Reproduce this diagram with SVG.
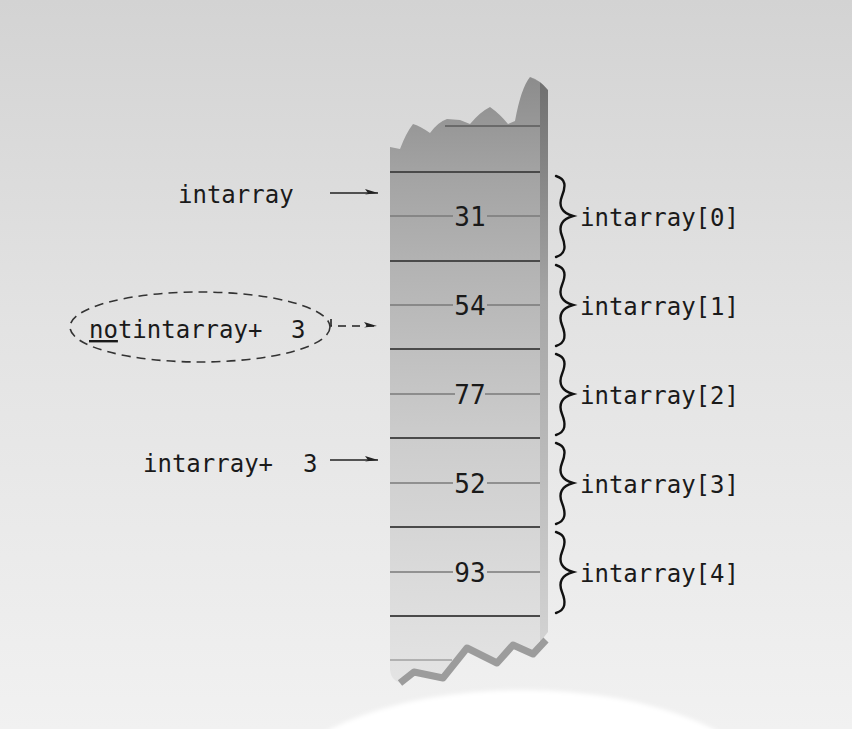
<svg xmlns="http://www.w3.org/2000/svg" width="852" height="729" viewBox="0 0 852 729">
<defs>
<linearGradient id="bg" x1="0" y1="0" x2="0" y2="1">
<stop offset="0" stop-color="#d3d3d3"/>
<stop offset="0.45" stop-color="#e3e3e3"/>
<stop offset="1" stop-color="#f1f1f1"/>
</linearGradient>
<linearGradient id="face" gradientUnits="userSpaceOnUse" x1="0" y1="77" x2="0" y2="685">
<stop offset="0" stop-color="#8c8c8c"/>
<stop offset="0.15" stop-color="#a2a2a2"/>
<stop offset="0.3" stop-color="#b2b2b2"/>
<stop offset="0.6" stop-color="#cdcdcd"/>
<stop offset="0.85" stop-color="#dcdcdc"/>
<stop offset="1" stop-color="#e4e4e4"/>
</linearGradient>
<linearGradient id="side" gradientUnits="userSpaceOnUse" x1="0" y1="77" x2="0" y2="640">
<stop offset="0" stop-color="#6e6e6e"/>
<stop offset="0.4" stop-color="#a6a6a6"/>
<stop offset="1" stop-color="#d2d2d2"/>
</linearGradient>
<filter id="soft" x="-10%" y="-10%" width="120%" height="120%"><feGaussianBlur stdDeviation="2"/></filter>
<marker id="harp" markerUnits="userSpaceOnUse" markerWidth="16" markerHeight="10" refX="14" refY="5" orient="auto" viewBox="0 0 16 10">
<path d="M14,5 L1,1 L4,5 L1,6.5 Z" fill="#222"/>
</marker>
<style>
.mono{font-family:"DejaVu Sans Mono","Liberation Mono",monospace;fill:#1a1a1a}
.lbl{font-size:24px}
.num{font-size:26px;text-anchor:middle}
.cell{stroke:#4a4a4a;stroke-width:2.2}
.mid{stroke:#7a7a7a;stroke-width:1.3}
.brace{fill:none;stroke:#111;stroke-width:2.4;stroke-linecap:round}
.arr{stroke:#222;stroke-width:1.6;fill:none}
</style>
</defs>
<rect x="0" y="0" width="852" height="729" fill="url(#bg)"/>
<ellipse cx="522" cy="802" rx="252" ry="112" fill="#ffffff" filter="url(#soft)"/>

<g id="column">
<path d="M390,147 L400,149 Q406,133 413,124 Q420,126 430,133 Q438,122 447,119 L460,120 L470,124 Q480,112 490,107 Q500,114 508,124 L515,121 Q521,88 530,77 L540,82 L540,640 L530,655 L513,645 L497,663 L467,648 L443,678 L414,672 L400,683 Q391,680 390,670 Z" fill="url(#face)"/>
<path d="M530,77 Q540,80 548,90 L548,632 L540,642 L540,82 Z" fill="url(#side)"/>
<path d="M400,683 L414,672 L443,678 L467,648 L497,663 L513,645 L533,654 L546,640" fill="none" stroke="#9c9c9c" stroke-width="7" stroke-linejoin="round"/>
<line x1="445" y1="126" x2="540" y2="126" stroke="#6a6a6a" stroke-width="2"/>
<line x1="390" y1="660" x2="452" y2="660" stroke="#a0a0a0" stroke-width="1.5"/>
<line class="cell" x1="390" y1="172" x2="540" y2="172"/>
<line class="cell" x1="390" y1="261" x2="540" y2="261"/>
<line class="cell" x1="390" y1="349" x2="540" y2="349"/>
<line class="cell" x1="390" y1="438" x2="540" y2="438"/>
<line class="cell" x1="390" y1="527" x2="540" y2="527"/>
<line class="cell" x1="390" y1="616" x2="540" y2="616"/>
</g>

<g id="cell0">
<line class="mid" x1="390" y1="216" x2="453" y2="216"/><line class="mid" x1="487" y1="216" x2="540" y2="216"/>
<text class="mono num" x="470" y="226">31</text>
</g>
<g id="cell1">
<line class="mid" x1="390" y1="305" x2="453" y2="305"/><line class="mid" x1="487" y1="305" x2="540" y2="305"/>
<text class="mono num" x="470" y="315">54</text>
</g>
<g id="cell2">
<line class="mid" x1="390" y1="394" x2="455" y2="394"/><line class="mid" x1="485" y1="394" x2="540" y2="394"/>
<text class="mono num" x="470" y="404">77</text>
</g>
<g id="cell3">
<line class="mid" x1="390" y1="483" x2="453" y2="483"/><line class="mid" x1="487" y1="483" x2="540" y2="483"/>
<text class="mono num" x="470" y="493">52</text>
</g>
<g id="cell4">
<line class="mid" x1="390" y1="572" x2="453" y2="572"/><line class="mid" x1="487" y1="572" x2="540" y2="572"/>
<text class="mono num" x="470" y="582">93</text>
</g>

<g id="label0">
<path class="brace" d="M556,176 C566,179 566,186 562,196 C558,206 562,213 573,216 C562,219 558,226 562,236 C566,246 566,254 556,257"/>
<text class="mono lbl" x="580" y="226">intarray[0]</text>
</g>
<g id="label1">
<path class="brace" d="M556,265 C566,268 566,275 562,285 C558,295 562,302 573,305 C562,308 558,315 562,325 C566,335 566,343 556,346"/>
<text class="mono lbl" x="580" y="315">intarray[1]</text>
</g>
<g id="label2">
<path class="brace" d="M556,354 C566,357 566,364 562,374 C558,384 562,391 573,394 C562,397 558,404 562,414 C566,424 566,432 556,435"/>
<text class="mono lbl" x="580" y="404">intarray[2]</text>
</g>
<g id="label3">
<path class="brace" d="M556,443 C566,446 566,453 562,463 C558,473 562,480 573,483 C562,486 558,493 562,503 C566,513 566,521 556,524"/>
<text class="mono lbl" x="580" y="493">intarray[3]</text>
</g>
<g id="label4">
<path class="brace" d="M556,532 C566,535 566,542 562,552 C558,562 562,569 573,572 C562,575 558,582 562,592 C566,602 566,610 556,613"/>
<text class="mono lbl" x="580" y="582">intarray[4]</text>
</g>

<g id="ptr-intarray">
<text class="mono lbl" x="178" y="203">intarray</text>
</g>
<g id="ptr-intarray-plus3">
<text class="mono lbl" x="143" y="472">intarray+ <tspan x="303">3</tspan></text>
</g>
<g id="ptr-notintarray">
<ellipse cx="200" cy="327" rx="130" ry="35" fill="none" stroke="#333" stroke-width="1.6" stroke-dasharray="9 6"/>
<text class="mono lbl" x="89" y="338"><tspan text-decoration="underline">no</tspan>tintarray+ <tspan x="291">3</tspan></text>
</g>

<g id="connectors">
<path class="arr" d="M330,193 L378,193" marker-end="url(#harp)"/>
<path class="arr" d="M330,460 L378,460" marker-end="url(#harp)"/>
<path class="arr" d="M331,319 L331,326 L377,326" stroke-dasharray="8 6" marker-end="url(#harp)"/>
</g>
</svg>
